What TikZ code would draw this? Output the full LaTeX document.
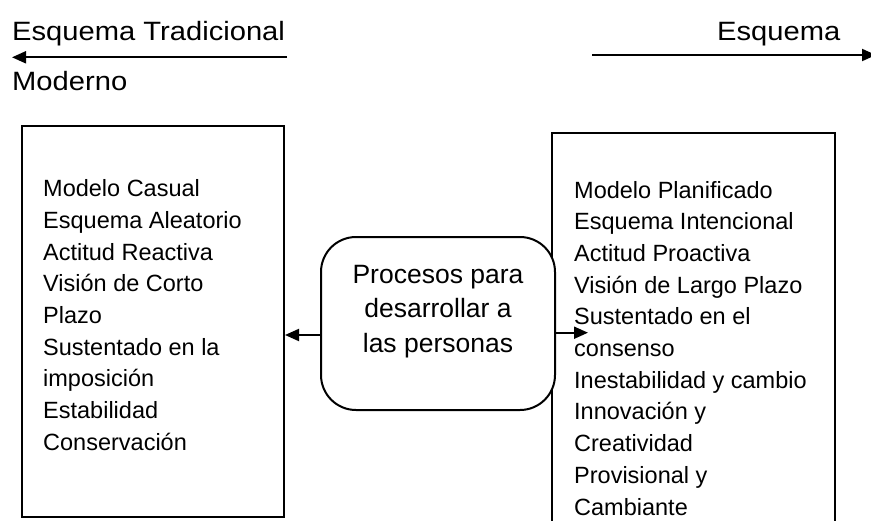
\documentclass[tikz,border=0pt]{standalone}
\usepackage{fontspec}
\setmainfont{Liberation Sans}
\newfontfamily\headfont[FakeStretch=1.1]{Liberation Sans}
\usetikzlibrary{arrows.meta}

\tikzset{
    box/.style={draw, line width=2pt, inner sep=0pt},
    arr/.style={line width=2pt, -{Triangle[length=14pt, width=12pt]}},
    head/.style={font=\headfont\fontsize{26.5}{30}\selectfont, anchor=base west, inner sep=0pt},
    item/.style={font=\fontsize{23.5}{28}\selectfont, anchor=base west, inner sep=0pt},
    mid/.style={font=\fontsize{26.5}{30}\selectfont, anchor=base, inner sep=0pt}
}

\begin{document}
\begin{tikzpicture}[x=1pt, y=-1pt]

            % the frame
            \useasboundingbox (0, 0) rectangle (871, 520);
            \fill[white] (0, 0) rectangle (871, 520);
            \path[clip] (0, 0) rectangle (871, 520);

            % titles
            \node[head] (tradicional) at (12, 40) {Esquema Tradicional};
            \node[head] (moderno) at (12, 90) {Moderno};
            \node[head] (esquema) at (717, 40) {Esquema};
            \coordinate (ltail) at (287, 57.3);
            \coordinate (ltip) at (12, 57.3);
            \coordinate (rtail) at (592, 55);
            \coordinate (rtip) at (876, 55);
            \draw[arr] (ltail) -- (ltip);
            \draw[arr] (rtail) -- (rtip);

            % the boxes
            \node[box, minimum width=262, minimum height=391] (casual) at (153, 321.5) {};
            \node[box, minimum width=283, minimum height=427] (planif) at (693.5, 346.5) {};
            \node[box, fill=white, rounded corners=35pt, minimum width=234, minimum height=173] (proc) at (438, 323.5) {};

            % left list
            \foreach \t [count=\i] in {Modelo Casual, Esquema Aleatorio, Actitud Reactiva, Visión de Corto, Plazo, Sustentado en la, imposición, Estabilidad, Conservación} {
                \node[item] (c\i) at (43, {196.7 + 31.7*(\i-1)}) {\t};
            }

            % right list
            \foreach \t [count=\i] in {Modelo Planificado, Esquema Intencional, Actitud Proactiva, Visión de Largo Plazo, Sustentado en el, consenso, Inestabilidad y cambio, Innovación y, Creatividad, Provisional y, Cambiante} {
                \node[item] (p\i) at (574, {198 + 31.7*(\i-1)}) {\t};
            }

            % center text
            \foreach \t [count=\i] in {Procesos para, desarrollar a, las personas} {
                \node[mid] (m\i) at (438, {283 + 34.5*(\i-1)}) {\t};
            }

            % arrows out of the process box
            \coordinate (lmid) at (0, 335);
            \coordinate (ptip) at (588, 332.7);
            \draw[arr] (proc.west |- lmid) -- (casual.east |- lmid);
            \draw[arr] (proc.east |- ptip) -- (ptip);

\end{tikzpicture}
\end{document}
